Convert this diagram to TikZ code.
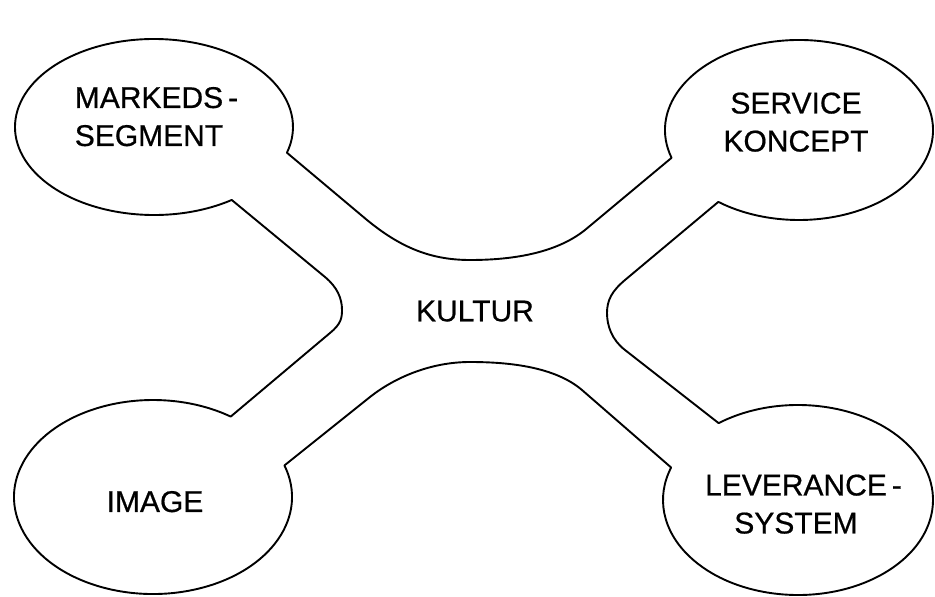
\documentclass[tikz,border=0pt]{standalone}
\usepackage{fontspec}
\setmainfont{Liberation Sans}[FakeBold=0.6]
\usetikzlibrary{calc}
\begin{document}
\begin{tikzpicture}[x=1pt,y=-1pt,
  outline/.style={draw=black, line width=1.9pt, line join=round},
  lbl/.style={inner sep=0pt, text depth=0pt, align=center, font=\fontsize{30}{38}\selectfont}]
\useasboundingbox (0,0) rectangle (935,597);
% ellipse centres
\coordinate (tl) at (154,127);
\coordinate (sc) at (799,130);
\coordinate (ls) at (798,500);
\coordinate (im) at (153,497);
% junctions of arms and ellipses
\coordinate (tl1) at ($(tl)+(17:139 and 88)$);
\coordinate (tl2) at ($(tl)+(56:139 and 88)$);
\coordinate (sc1) at ($(sc)+(162:134 and 90)$);
\coordinate (ls1) at ($(ls)+(234:135 and 95)$);
\coordinate (im1) at ($(im)+(341:139 and 97)$);
\draw[outline] (tl1) -- (367,220)
 .. controls (400,247) and (430,260) .. (470,260)
 .. controls (510,260) and (555,254) .. (585,230)
 -- (sc1) arc[start angle=162, end angle=487, x radius=134, y radius=90]
 -- (625,280)
 .. controls (612,291) and (607,300) .. (607,313)
 .. controls (607,326) and (612,340) .. (625,350)
 -- (ls1) arc[start angle=234, end angle=560, x radius=135, y radius=95]
 -- (582,390)
 .. controls (555,367) and (510,362) .. (470,362)
 .. controls (430,362) and (394,378) .. (370,397)
 -- (im1) arc[start angle=341, end angle=664, x radius=139, y radius=97]
 -- (330,333)
 .. controls (341,324) and (342,318) .. (342,310)
 .. controls (342,298) and (337,287) .. (325,277)
 -- (tl2) arc[start angle=56, end angle=377, x radius=139, y radius=88]
 -- cycle;
% labels
\node[lbl] (markeds) at (149,116.5) {MARKEDS\rlap{\kern5pt-}\\SEGMENT};
\node[lbl] (service) at (796,122) {SERVICE\\KONCEPT};
\node[lbl] (kultur) at (475,311) {KULTUR};
\node[lbl] (image) at (155,501.5) {IMAGE};
\node[lbl] (leverance) at (796,504) {LEVERANCE\rlap{\kern5pt-}\\SYSTEM};
\end{tikzpicture}
\end{document}
